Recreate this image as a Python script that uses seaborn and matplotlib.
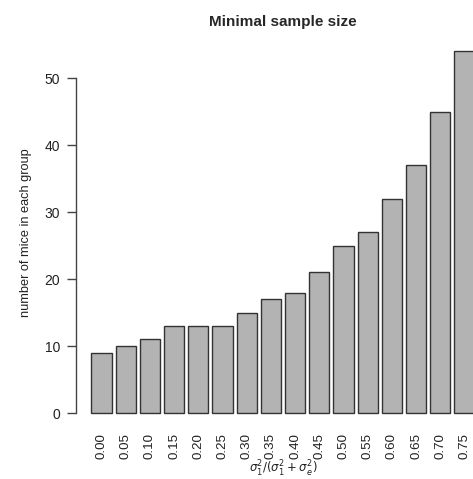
import matplotlib
matplotlib.use("Agg")
import matplotlib.pyplot as plt
import seaborn as sns
import pandas as pd

categories = ["0.00", "0.05", "0.10", "0.15", "0.20", "0.25", "0.30", "0.35",
              "0.40", "0.45", "0.50", "0.55", "0.60", "0.65", "0.70", "0.75"]
mice = [9, 10, 11, 13, 13, 13, 15, 17, 18, 21, 25, 27, 32, 37, 45, 54]
yticks = [0, 10, 20, 30, 40, 50]

df = pd.DataFrame({"ratio": categories, "mice": mice})

sns.set_style("white")
plt.rcParams['font.family'] = ['Liberation Sans', 'DejaVu Sans']
plt.rcParams['mathtext.fontset'] = 'dejavusans'

fig = plt.figure(figsize=(4.73, 4.79), dpi=100)
W, H = 473, 479
left, right, top, bottom = 76, 490, 37, 427.5
ax = fig.add_axes([left / W, (H - bottom) / H, (right - left) / W, (bottom - top) / H])

sns.barplot(data=df, x="ratio", y="mice", order=categories, color="#b3b3b3",
            saturation=1, width=1 / 1.2, edgecolor="#333333", linewidth=1.0, ax=ax)

ax.set_xlim(-1.05, 16.05)
ax.set_ylim(-2.16, 56.16)
for s in ["top", "right", "bottom"]:
    ax.spines[s].set_visible(False)
ax.spines["left"].set_bounds(0, 50)
ax.spines["left"].set_color("#444444")
ax.spines["left"].set_linewidth(1.0)
ax.set_yticks(yticks)
ax.tick_params(axis="y", left=True, length=6.5, width=1.0, color="#444444",
               labelsize=10, pad=5)
ax.tick_params(axis="x", bottom=False, labelsize=9.6, pad=0.5, labelrotation=90)
for lab in ax.get_xticklabels() + ax.get_yticklabels():
    lab.set_color("#222222")

ax.set_xlabel(r"$\sigma_1^2/(\sigma_1^2+\sigma_e^2)$", fontsize=8.4,
              color="#222222")
ax.xaxis.set_label_coords((283 - left) / (right - left), (bottom - 459) / (bottom - top))
ax.set_ylabel("number of mice in each group", fontsize=9.2, labelpad=9,
              color="#222222")
ax.set_title("Minimal sample size", fontsize=11, fontweight="bold", pad=8)

fig.savefig("out.png", dpi=100)
